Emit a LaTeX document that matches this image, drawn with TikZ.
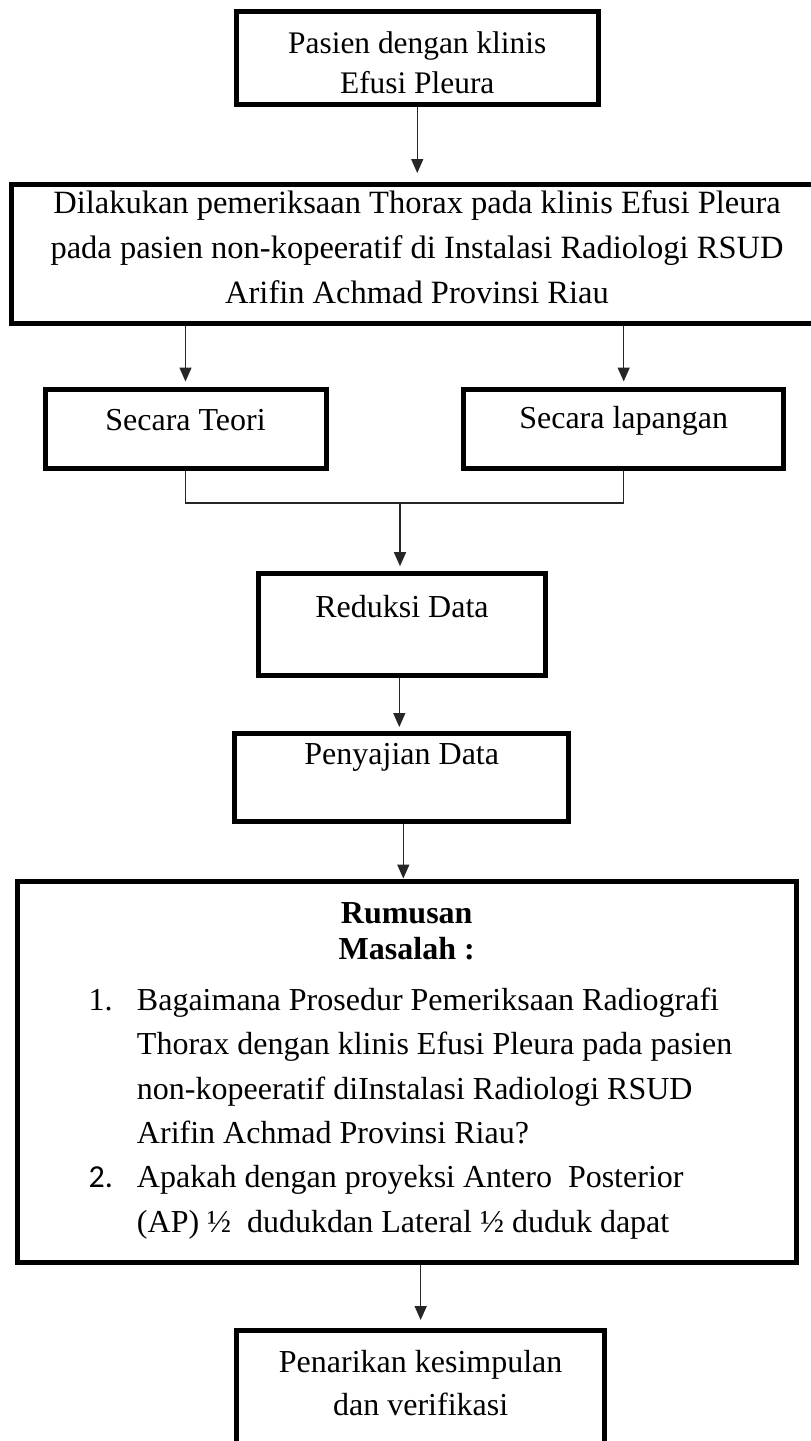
\documentclass[tikz,border=0pt]{standalone}
\usepackage{fontspec}
\setmainfont{Liberation Serif}
\newfontfamily\carlito{Carlito}
\usetikzlibrary{arrows.meta}
% text raised by #1 from the node centre (baseline of last line), size #2, line spacing #3
\newcommand\rbtext[4]{\raisebox{#1}[0pt][0pt]{\fontsize{#2}{#3}\selectfont\begin{tabular}[b]{@{}c@{}}#4\end{tabular}}}
\newcommand\rumusantext{\raisebox{-160.7pt}[0pt][0pt]{\parbox[b]{760pt}{%
\fontsize{32}{36}\selectfont\bfseries\centering Rumusan\\ Masalah :\par
\vspace{6.6pt}%
\fontsize{32}{44.4}\selectfont\mdseries\raggedright\leftskip=110.25pt
\noindent\llap{\makebox[48.25pt][l]{1.}}Bagaimana Prosedur Pemeriksaan Radiografi\\
Thorax dengan klinis Efusi Pleura pada pasien\\
non-kopeeratif diInstalasi Radiologi RSUD\\
Arifin Achmad Provinsi Riau?\par
\noindent\llap{\makebox[48.25pt][l]{\carlito 2.}}Apakah dengan proyeksi Antero\ \ Posterior\\
(AP) ½\ \ dudukdan Lateral ½ duduk dapat\par}}}
\tikzset{
  box/.style={draw=black, line width=5pt, inner sep=0pt, fill=none},
  conn/.style={draw=black!85, line width=1.5pt},
  arr/.style={conn, -{Triangle[width=12pt,length=14pt]}},
}
\begin{document}
\begin{tikzpicture}[x=1pt,y=-1pt]
\useasboundingbox[fill=white] (0,0) rectangle (811,1441);
\node[box, minimum width=361.5pt, minimum height=92.8pt] (b1) at (417.25,58.1)
  {\rbtext{-35pt}{31.4}{40pt}{Pasien dengan klinis\\ Efusi Pleura}};
\node[box, minimum width=812pt, minimum height=138.5pt] (b2) at (417,253.75)
  {\rbtext{-49.5pt}{32.5}{45pt}{Dilakukan pemeriksaan Thorax pada klinis Efusi Pleura\\ pada pasien non-kopeeratif di Instalasi Radiologi RSUD\\ Arifin Achmad Provinsi Riau}};
\node[box, minimum width=281pt, minimum height=79pt] (teori) at (185.5,429)
  {\rbtext{-1.2pt}{32}{40pt}{Secara Teori}};
\node[box, minimum width=320.5pt, minimum height=79pt] (lapangan) at (623.7,429)
  {\rbtext{0.1pt}{32}{40pt}{Secara lapangan}};
\node[box, minimum width=287pt, minimum height=101.6pt] (reduksi) at (402,624.5)
  {\rbtext{7.3pt}{32}{40pt}{Reduksi Data}};
\node[box, minimum width=334pt, minimum height=88.2pt] (penyajian) at (401.75,777.1)
  {\rbtext{12.9pt}{32}{40pt}{Penyajian Data}};
\node[box, minimum width=778.5pt, minimum height=381pt] (rumusan) at (406.75,1071.5)
  {\rumusantext};
\node[box, minimum width=367.7pt, minimum height=130pt] (final) at (420.65,1395.8)
  {\rbtext{-19.4pt}{32}{43pt}{Penarikan kesimpulan\\ dan verifikasi}};
\coordinate (j) at (400,503);
% connectors
\draw[arr, shorten >=9pt] (b1.south) -- (b2.north -| b1.south);
\draw[arr, shorten >=5.5pt] (b2.south -| teori.north) -- (teori.north);
\draw[arr, shorten >=5.5pt] (b2.south -| lapangan.north) -- (lapangan.north);
\draw[conn] (teori.south) |- (j);
\draw[conn] (lapangan.south) |- (j);
\draw[arr, shorten >=5pt] (j) -- (j |- reduksi.north);
\draw[arr, shorten >=3.5pt] (reduksi.south -| 399.3,0) -- (penyajian.north -| 399.3,0);
\draw[arr] (penyajian.south -| 403.3,0) -- (rumusan.north -| 403.3,0);
\draw[arr, shorten >=8.3pt] (rumusan.south -| final.north) -- (final.north);
\end{tikzpicture}
\end{document}
